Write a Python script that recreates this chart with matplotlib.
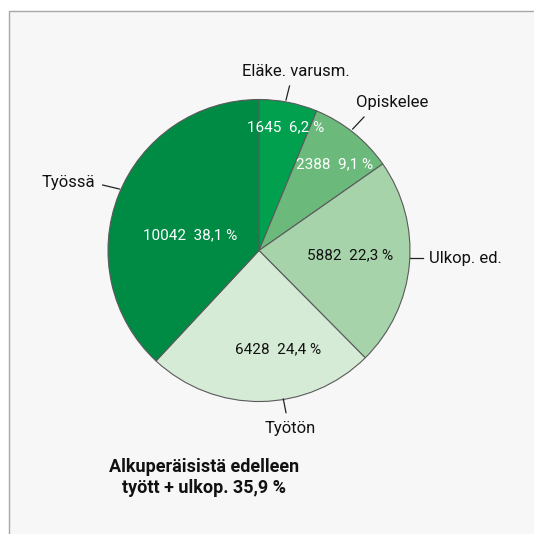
import matplotlib
matplotlib.use("Agg")
import matplotlib.pyplot as plt
from matplotlib.patches import Rectangle

# ---- data ----
categories = ["Eläke. varusm.", "Opiskelee", "Ulkop. ed.", "Työtön", "Työssä"]
values = [1645, 2388, 5882, 6428, 10042]
percent_labels = ["6,2 %", "9,1 %", "22,3 %", "24,4 %", "38,1 %"]
note_lines = ["Alkuperäisistä edelleen", "tyött + ulkop. 35,9 %"]

# ---- styles ----
colors = ["#00a04f", "#6bba7c", "#a6d3aa", "#d6ebd6", "#008b44"]
inner_text_colors = ["white", "white", "#111111", "#111111", "white"]
FONT = ["Roboto", "DejaVu Sans"]

W = H = 534
fig = plt.figure(figsize=(W / 100, H / 100), dpi=100)
fig.patch.set_facecolor("white")

# panel background with top/left border
fig.patches.append(Rectangle((9 / W, -0.01), 1.05, 1 - 11 / H + 0.01,
                             transform=fig.transFigure, facecolor="#f7f7f7",
                             edgecolor="#a8a8a8", linewidth=1.0, zorder=-10))

ax = fig.add_axes([0, 0, 1, 1])
ax.set_zorder(5)
ax.patch.set_alpha(0)

def py(y):
    return H - y

cx, cy, r = 259, 250.5, 151
ax.pie(values, colors=colors, startangle=90, counterclock=False,
       center=(cx, py(cy)), radius=r, frame=True,
       wedgeprops=dict(edgecolor="#5a5a5a", linewidth=0.8))
ax.set_xlim(0, W)
ax.set_ylim(0, H)
ax.set_aspect("equal")
ax.axis("off")

# inner labels (center x, baseline y)
inner_pos = [(286, 131), (334.5, 168), (350, 259), (278, 353), (190, 239)]
for v, p, (x, y), c in zip(values, percent_labels, inner_pos, inner_text_colors):
    ax.text(x, py(y), f"{v}  {p}", ha="center", va="baseline", color=c,
            fontsize=11, family=FONT)

# outer labels with leader lines (x, baseline y, alignment)
outer_pos = [(296, 75.5, "center"), (392, 106.5, "center"), (429, 263, "left"),
             (290, 433, "center"), (95, 186.5, "right")]
leaders = [((286, 100), (289.5, 86)), ((352.7, 129), (364, 117)),
           ((410, 258), (423, 258)), ((283.3, 399), (286, 412.7)),
           ((119.3, 189), (102.7, 185))]
for name, (x, y, ha), ((x0, y0), (x1, y1)) in zip(categories, outer_pos, leaders):
    ax.text(x, py(y), name, ha=ha, va="baseline", color="#111111",
            fontsize=12, family=FONT)
    ax.plot([x0, x1], [py(y0), py(y1)], color="#222222", linewidth=0.9)

ax.text(204, py(472), note_lines[0], ha="center", va="baseline",
        fontsize=13, fontweight="bold", family=FONT, color="#111111")
ax.text(204, py(493), note_lines[1], ha="center", va="baseline",
        fontsize=13, fontweight="bold", family=FONT, color="#111111")

fig.savefig("out.png", dpi=100, facecolor="white")
